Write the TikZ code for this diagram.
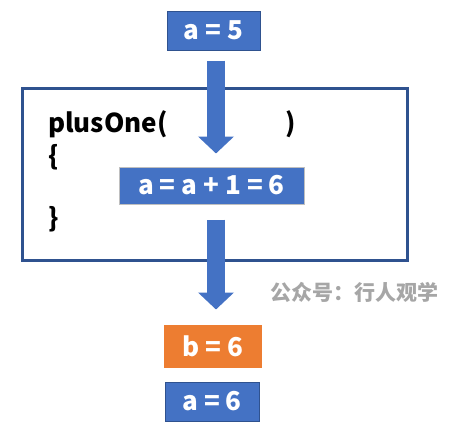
\documentclass[tikz,border=0pt]{standalone}
\usepackage{fontspec}
\setmainfont{Noto Sans CJK SC}
\usetikzlibrary{arrows.meta,positioning,calc}
\definecolor{boxblue}{HTML}{4472C4}
\definecolor{edgeblue}{HTML}{2F528F}
\definecolor{boxorange}{HTML}{ED7D31}
\definecolor{markgray}{HTML}{A6A6A6}

\begin{document}
\begin{tikzpicture}[x=1pt,y=-1pt,font=\bfseries,
  valbox/.style={draw=edgeblue,fill=boxblue,text=white,line width=1pt,inner sep=0pt,font=\bfseries\fontsize{26}{30}\selectfont},
  code/.style={inner sep=0pt,font=\bfseries\fontsize{26}{30}\selectfont},
  flow/.style={boxblue,line width=18pt,-{Triangle[width=35pt,length=17pt]}}]
\useasboundingbox (0,0) rectangle (459,437);
% function frame
\node[draw=edgeblue,line width=3pt,minimum width=385pt,minimum height=172pt,inner sep=0pt] (func) at (215,174.5) {};
\node[code,anchor=base west] (head) at (48,132) {plusOne(};
\node[code,anchor=base west] (close) at (285,132) {)};
\node[code,anchor=base west] (lbrace) at (48,165) {\{};
\node[code,anchor=base west] (rbrace) at (48,227) {\}};
% values
\node[valbox,minimum width=93pt,minimum height=39pt] (a5) at (213.5,30.5) {a = 5};
\node[valbox,draw=black!25,minimum width=185pt,minimum height=37pt] (calc) at (211.5,185.5) {a = a + 1 = 6};
\node[valbox,draw=boxorange,fill=boxorange,minimum width=97pt,minimum height=42pt] (b6) at (212.5,346) {b = 6};
\node[valbox,minimum width=94pt,minimum height=39pt] (a6) at (212,401.5) {a = 6};
% watermark
\node[text=markgray,anchor=west,inner sep=0pt,font=\bfseries\fontsize{21}{24}\selectfont] (mark) at (270,292) {公众号：行人观学};
% arrows
\draw[flow] ([xshift=2.5pt,yshift=-10pt]a5.south) -- ([xshift=4.5pt,yshift=13pt]calc.north);
\draw[flow] ([xshift=4.5pt,yshift=-15pt]calc.south) -- ([xshift=3.5pt,yshift=15pt]b6.north);
\end{tikzpicture}
\end{document}
